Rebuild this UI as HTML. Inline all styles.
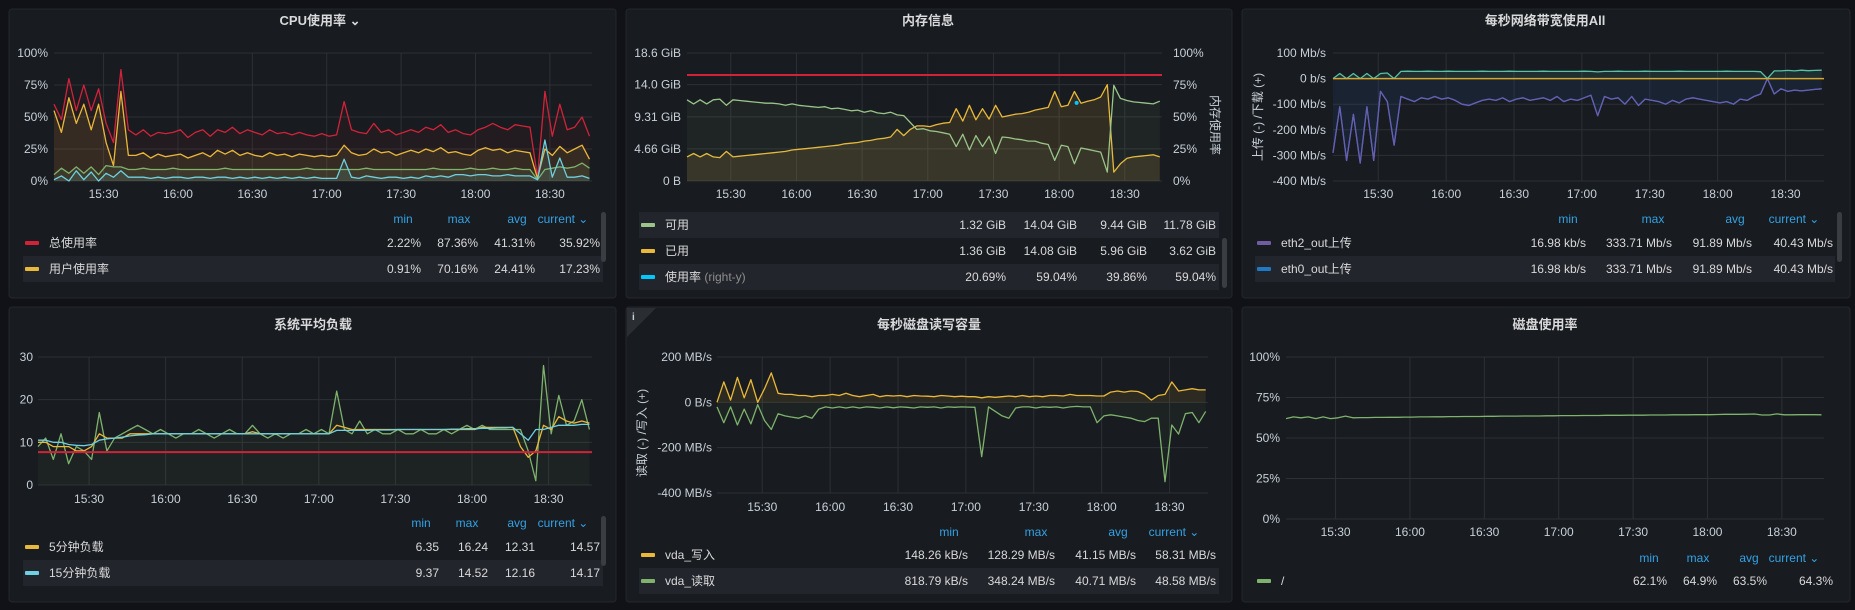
<!DOCTYPE html>
<html><head><meta charset="utf-8">
<style>
html,body{margin:0;padding:0;background:#111217;width:1855px;height:610px;overflow:hidden}
svg{display:block;font-family:"Liberation Sans","Noto Sans CJK SC",sans-serif}
</style></head>
<body>
<svg id="dash" width="1855" height="610" viewBox="0 0 1855 610"></svg>
<script>
// ---- data (one sample every 3 minutes starting 15:10) ----
const xTickLabels = ["15:30","16:00","16:30","17:00","17:30","18:00","18:30"];
const xTickMinutes = [20,50,80,110,140,170,200];

const cpuTotal = [60,48,80,55,75,55,72,45,30,87, 40,36,40,35,38,37,38,40,34,38, 40,35,40,38,42,37,40,38,36,40, 37,38,36,38,36,35,37,35,36,62, 40,38,37,45,38,40,36,38,40,38, 42,40,44,38,40,37,36,40,42,45, 42,40,44,43,42,3,70,35,60,40, 42,50,35];
const cpuUser = [55,38,65,45,60,40,60,30,12,70, 20,20,22,18,21,19,20,21,18,20, 22,19,24,21,24,20,22,20,19,22, 20,21,19,21,20,19,20,19,20,28, 22,20,21,25,22,23,20,22,24,22, 25,23,26,22,23,21,20,24,26,24, 25,22,24,23,22,2,25,20,27,22, 25,28,17];
const cpuSys = [5,10,6,11,6,11,5,12,11,11, 9,9,10,9,9,9,10,9,9,9, 9,9,9,10,9,9,9,9,9,9, 9,9,9,9,10,9,9,9,9,9, 9,9,10,9,9,9,9,9,9,9, 9,10,9,9,9,9,10,9,9,10, 9,9,10,9,9,1,9,10,11,10, 11,14,10];
const cpuIo = [1,4,0,8,1,7,0,6,3,8, 3,3,3,2,3,2,3,3,2,3, 3,2,3,3,2,3,2,3,2,3, 2,3,2,3,2,3,2,2,2,17, 3,2,4,3,2,3,3,2,3,2, 4,3,4,3,5,5,4,5,5,4, 4,5,4,4,4,1,32,3,18,3, 3,4,2];

const memAvail = [11.8,11.2,11.8,11.2,11.8,11.9,11.0,11.8,11.7,11.6, 11.5,11.4,11.3,11.3,11.2,11.0,11.2,11.0,10.9,10.8, 10.7,10.8,10.5,10.6,10.4,10.2,10.3,10.0,10.2,9.9, 9.8,10.0,9.6,9.5,8.5,7.5,7.6,7.3,7.2,7.0, 6.8,5.0,6.8,4.5,6.6,5.0,6.5,4.0,6.4,6.3, 6.1,6.0,5.8,5.8,5.5,5.3,3.0,5.2,5.0,2.5, 4.8,4.6,4.4,4.2,1.3,13.9,12.0,11.7,11.5,11.4, 11.3,11.2,11.6];
const memUsed = [3.5,4.0,3.5,4.0,3.5,3.4,4.3,3.5,3.6,3.7, 3.8,3.9,4.0,4.1,4.2,4.3,4.5,4.6,4.7,4.8, 4.9,5.0,5.1,5.2,5.4,5.5,5.6,5.8,5.9,6.1, 6.2,6.4,7.5,6.6,7.5,8.0,8.0,7.9,8.2,8.4, 8.5,10.5,8.7,11.0,8.9,10.5,9.0,11.0,9.3,9.5, 9.7,9.8,10.0,10.3,10.5,10.7,13.0,10.8,11.0,13.0, 11.3,11.6,11.8,12.2,14.0,1.3,2.5,3.3,3.5,3.6, 3.7,3.8,3.5];
const memThreshold = 15.4;
const memUsagePoint = [[178, 61]]; // [minute, percent]

const netOut = [-290,-110,-320,-140,-330,-110,-320,-50,-90,-260, -70,-80,-90,-75,-80,-70,-80,-75,-85,-100, -105,-95,-85,-80,-85,-75,-90,-80,-75,-85, -80,-75,-85,-70,-90,-80,-85,-75,-65,-145, -70,-80,-75,-100,-70,-105,-80,-85,-90,-100, -85,-95,-80,-75,-80,-85,-90,-95,-90,-100, -80,-85,-70,-60,0,-60,-40,-50,-45,-48, -45,-42,-40];
const netIn = [0,20,0,20,0,20,0,20,22,0, 28,29,28,28,29,28,28,29,28,28, 28,28,29,28,28,28,29,28,28,28, 28,29,28,28,28,28,28,29,28,26, 28,28,29,28,28,28,29,28,28,28, 28,29,28,28,28,28,28,28,29,28, 28,28,28,27,0,30,30,32,30,33, 31,32,33];

const load1 = [9,11,6,12,5,9,8,6,17,8, 11,12,13,14,13,12,13,12,11,12, 12,13,12,11,12,13,12,12,14,12, 11,12,11,12,12,13,12,13,12,22, 13,12,15,12,13,12,12,13,12,12, 13,12,12,13,12,13,14,13,14,13, 13,13,13,13,8,1,28,12,21,14, 15,20,13];
const load5 = [10,10,9,9,9,8,8,9,12,11, 11,11,12,12,12,12,12,12,12,12, 12,12,12,12,12,12,12,12,12.5,12, 12,12,12,12,12,12,12,12,12,14, 13.5,13,13,13,13,13,13,13,13,13, 13,13,13,13,13,13,13,13,13.5,13.5, 13.5,13.5,13.5,9,6.5,8,14,13,16,15, 14.5,15,14.5];
const load15 = [10.5,10.5,10,10,9.5,9.3,9.2,9.5,10.5,10.8, 11,11.2,11.5,11.7,11.8,12,12,12,12,12, 12,12,12,12,12,12,12,12,12,12, 12,12,12,12,12,12,12,12,12,12.8, 12.8,12.8,12.8,12.8,12.9,12.9,12.9,13,13,13, 13,13,13,13,13.1,13.1,13.2,13.2,13.3,13.3, 13.4,13.4,13.5,12,10.5,13,13,13.5,14,14, 14,14.2,14.2];
const loadThreshold = 7.7;

const ioWrite = [0,90,10,110,20,100,0,60,130,40, 35,35,30,30,25,30,30,35,30,40, 30,25,30,35,25,30,28,30,25,30, 28,27,25,30,28,25,27,25,25,20, 25,22,25,28,25,30,25,28,25,30, 30,28,35,30,30,30,28,28,45,50, 45,50,48,35,10,30,35,90,50,55, 60,55,55];
const ioRead = [-20,-90,-20,-100,-30,-95,-10,-80,-120,-50, -60,-65,-70,-60,-70,-30,-20,-25,-20,-25, -20,-25,-20,-22,-25,-20,-24,-20,-22,-25, -20,-22,-20,-25,-20,-22,-20,-21,-22,-240, -20,-40,-60,-70,-25,-20,-20,-25,-20,-22, -20,-25,-20,-18,-20,-20,-90,-60,-55,-60, -65,-70,-80,-85,-70,-70,-350,-100,-140,-50, -45,-90,-40];

const diskUse = [62,63,62.5,63,62,63,62,62.5,63.5,62.5, 62.6,62.6,62.7,62.7,62.8,62.8,62.9,62.9,63,63, 63.1,63.1,63.2,63.2,63.3,63.3,63.3,63.4,63.4,63.5, 63.5,63.5,63.6,63.6,63.6,63.7,63.7,63.8,63.8,63.8, 63.9,63.9,63.9,64,64,64,64.1,64.1,64.1,64.2, 64.2,64.2,64.3,64.3,64.3,64.4,64.4,64.4,64.5,64.6, 64.6,64.6,64.7,64.8,64.2,64.2,64.9,64.3,64.3,64.4, 64.4,64.4,64.3];

// ---- helpers ----
const NS="http://www.w3.org/2000/svg";
const svg=document.getElementById('dash');
const STEP=3, TMAX=217;
function mk(tag,attrs,parent){const e=document.createElementNS(NS,tag);for(const k in attrs)e.setAttribute(k,attrs[k]);(parent||svg).appendChild(e);return e;}
function txt(x,y,s,opts,name){const e=mk('text',Object.assign({x:x,y:y,fill:'#c7d0d9','font-size':12},opts||{}));e.textContent=s;


return e;}
function scales(c){return {x:t=>c.x0+t/TMAX*(c.x1-c.x0), y:v=>c.y1-(v-c.vmin)/(c.vmax-c.vmin)*(c.y1-c.y0)};}

function panel(x,y,w,h,name,title,tcx,tby){
  const r=mk('rect',{x:x,y:y,width:w,height:h,rx:3,fill:'#181b1f',stroke:'#24272c'});
  
  
  const t=txt(tcx,tby,title,{'text-anchor':'middle','font-size':13,'font-weight':'bold',fill:'#d8d9da'},name+'-title');
  
}
function axes(c,name){
  const s=scales(c);
  c.yt.forEach((v,i)=>{const y=s.y(v);
    const g=mk('line',{x1:c.x0,x2:c.x1,y1:y,y2:y,stroke:'#2d3035','stroke-width':1});
    
    
    txt(c.ylx,y+4,c.yl[i],{'text-anchor':'end'},name+'-y-tick');
  });
  xTickMinutes.forEach((m,i)=>{const x=s.x(m);
    const g=mk('line',{x1:x,x2:x,y1:c.y0,y2:c.y1,stroke:'#2d3035','stroke-width':1});
    
    
    txt(x,c.xly,xTickLabels[i],{'text-anchor':'middle'},name+'-x-tick');
  });
}
function series(c,data,color,name,fillOp,fillColor){
  const s=scales(c);
  const pts=data.map((v,i)=>[s.x(i*STEP),s.y(v)]);
  const d=pts.map((p,i)=>(i?'L':'M')+p[0].toFixed(1)+' '+p[1].toFixed(1)).join(' ');
  const base=s.y(Math.max(c.vmin,Math.min(0,c.vmax)));
  if(fillOp){const a=mk('path',{d:d+' L'+pts[pts.length-1][0].toFixed(1)+' '+base+' L'+pts[0][0].toFixed(1)+' '+base+' Z',fill:fillColor||color,'fill-opacity':fillOp,stroke:'none'});
    
    }
  const l=mk('path',{d:d,fill:'none',stroke:color,'stroke-width':1.3,'stroke-linejoin':'round'});
  
  
}
function hline(c,v,color,name,w){const s=scales(c);const y=s.y(v);
  const l=mk('line',{x1:c.x0,x2:c.x1,y1:y,y2:y,stroke:color,'stroke-width':w||2});
  
  }
function header(cols,y,name){const labs=['min','max','avg','current ⌄'];
  cols.forEach((x,i)=>{const t=txt(x,y,labs[i],{'text-anchor':'middle',fill:'#33a2e5'},name+'-header-'+labs[i].split(' ')[0]);
    });}
function row(y,sx,tx,color,label,vals,vx,hl,name,extra){
  if(hl){const b=mk('rect',{x:hl[0],y:y-13,width:hl[1]-hl[0],height:26,fill:'#22252b'});
    
    }
  const sw=mk('rect',{x:sx,y:y-2,width:14,height:4,fill:color,rx:1});
  
  
  const t=txt(tx,y+4,label,{fill:'#d8d9da'},name+'-label');
  
  if(extra){const e=mk('tspan',{fill:'#8e8e8e'},t);e.textContent=extra;}
  vals.forEach((v,i)=>txt(vx[i],y+4,v,{'text-anchor':'end',fill:'#d8d9da'},name+'-value'));
}
function scrollbar(x,y,h,name){const r=mk('rect',{x:x,y:y,width:5,height:h,rx:2.5,fill:'#3a3d42'});
  
  }

// ---- Panel 1: CPU ----
panel(9,9,607,289,'cpu-panel','CPU使用率 ⌄',320,25);
const cCpu={x0:54,x1:592,y0:53,y1:181,vmin:0,vmax:100,yt:[0,25,50,75,100],yl:['0%','25%','50%','75%','100%'],ylx:48,xly:198};
axes(cCpu,'cpu');
series(cCpu,cpuTotal,'#d0233a','cpu-total',0.06);
series(cCpu,cpuUser,'#eab839','cpu-user',0.1);
series(cCpu,cpuSys,'#7eb26d','cpu-system',0.1);
series(cCpu,cpuIo,'#6ed0e0','cpu-iowait',0.1);
header([403,459,517,563],223,'cpu-legend');
row(243,25,49,'#d0233a','总使用率',['2.22%','87.36%','41.31%','35.92%'],[421,478,535,600],null,'cpu-legend-total');
row(269,25,49,'#eab839','用户使用率',['0.91%','70.16%','24.41%','17.23%'],[421,478,535,600],[23,603],'cpu-legend-user');
scrollbar(601,212,50,'cpu-legend-scrollbar');

// ---- Panel 2: Memory ----
panel(626,9,606,289,'memory-panel','内存信息',928,25);
const cMem={x0:687,x1:1162,y0:53,y1:181,vmin:0,vmax:18.6,yt:[0,4.66,9.31,14.0,18.6],yl:['0 B','4.66 GiB','9.31 GiB','14.0 GiB','18.6 GiB'],ylx:681,xly:198};
axes(cMem,'memory');
['0%','25%','50%','75%','100%'].forEach((l,i)=>txt(1173,185-i*32,l,{},'memory-right-y-tick'));
txt(0,0,'内存使用率',{transform:'translate(1211,125) rotate(90)','text-anchor':'middle',fill:'#c7d0d9'},'memory-right-y-title');
hline(cMem,memThreshold,'#d0233a','memory-threshold');
series(cMem,memUsed,'#eab839','memory-used',0.12);
series(cMem,memAvail,'#9ac48a','memory-available',0.06);
memUsagePoint.forEach(p=>{const s=scales(cMem);const c=mk('circle',{cx:s.x(p[0]),cy:181-p[1]/100*128,r:2,fill:'#00c8ff'});
  
  });
const mv=[1006,1077,1147,1216];
row(225,641,665,'#9ac48a','可用',['1.32 GiB','14.04 GiB','9.44 GiB','11.78 GiB'],mv,[639,1219],'memory-legend-available');
row(251,641,665,'#eab839','已用',['1.36 GiB','14.08 GiB','5.96 GiB','3.62 GiB'],mv,null,'memory-legend-used');
row(277,641,665,'#00c8ff','使用率 ',['20.69%','59.04%','39.86%','59.04%'],mv,[639,1219],'memory-legend-usage','(right-y)');
scrollbar(1222,238,50,'memory-legend-scrollbar');

// ---- Panel 3: Network ----
panel(1242,9,608,289,'network-panel','每秒网络带宽使用All',1545,25);
const cNet={x0:1333,x1:1824,y0:53,y1:181,vmin:-400,vmax:100,yt:[-400,-300,-200,-100,0,100],yl:['-400 Mb/s','-300 Mb/s','-200 Mb/s','-100 Mb/s','0 b/s','100 Mb/s'],ylx:1326,xly:198};
axes(cNet,'network');
txt(0,0,'上传 (-) /下载 (+)',{transform:'translate(1262,117) rotate(-90)','text-anchor':'middle'},'network-y-title');
series(cNet,netOut,'#1f78c1','network-eth0-out',0.18,'#1f4a8a');
series(cNet,netOut,'#6a5db0','network-eth2-out',0);
series(cNet,netIn,'#56c2a8','network-in',0.12);
hline(cNet,0,'#d6a72a','network-zero-series',1.5);
header([1568,1653,1735,1794],223,'network-legend');
const nv=[1586,1672,1752,1833];
row(243,1257,1281,'#705da0','eth2_out上传',['16.98 kb/s','333.71 Mb/s','91.89 Mb/s','40.43 Mb/s'],nv,null,'network-legend-eth2');
row(269,1257,1281,'#1f78c1','eth0_out上传',['16.98 kb/s','333.71 Mb/s','91.89 Mb/s','40.43 Mb/s'],nv,[1255,1835],'network-legend-eth0');
scrollbar(1837,212,50,'network-legend-scrollbar');

// ---- Panel 4: Load ----
panel(9,307,607,295,'load-panel','系统平均负载',313,329);
const cLoad={x0:38,x1:592,y0:357,y1:485,vmin:0,vmax:30,yt:[0,10,20,30],yl:['0','10','20','30'],ylx:33,xly:503};
axes(cLoad,'load');
series(cLoad,load1,'#7eb26d','load-1min',0.06);
series(cLoad,load5,'#eab839','load-5min',0);
series(cLoad,load15,'#6ed0e0','load-15min',0);
hline(cLoad,loadThreshold,'#d0233a','load-threshold');
header([421,467,517,563],527,'load-legend');
const lv=[439,488,535,600];
row(547,25,49,'#eab839','5分钟负载',['6.35','16.24','12.31','14.57'],lv,null,'load-legend-5min');
row(573,25,49,'#6ed0e0','15分钟负载',['9.37','14.52','12.16','14.17'],lv,[23,603],'load-legend-15min');
scrollbar(601,516,50,'load-legend-scrollbar');

// ---- Panel 5: Disk IO ----
panel(626,307,606,295,'disk-io-panel','每秒磁盘读写容量',929,329);
const ic=mk('path',{d:'M627 308 L656 308 L627 337 Z',fill:'#2a2d32'});


txt(632,320,'i',{'font-size':10,'font-weight':'bold',fill:'#c7d0d9'},'disk-io-info-icon');
const cIo={x0:717,x1:1208,y0:357,y1:493,vmin:-400,vmax:200,yt:[-400,-200,0,200],yl:['-400 MB/s','-200 MB/s','0 B/s','200 MB/s'],ylx:712,xly:511};
axes(cIo,'disk-io');
txt(0,0,'读取 (-) /写入 (+)',{transform:'translate(646,433) rotate(-90)','text-anchor':'middle'},'disk-io-y-title');
series(cIo,ioWrite,'#eab839','disk-io-write',0.1);
series(cIo,ioRead,'#7eb26d','disk-io-read',0.06);
header([949,1036,1118,1174],536,'disk-io-legend');
const iv=[968,1055,1136,1216];
row(555,641,665,'#eab839','vda_写入',['148.26 kB/s','128.29 MB/s','41.15 MB/s','58.31 MB/s'],iv,null,'disk-io-legend-write');
row(581,641,665,'#7eb26d','vda_读取',['818.79 kB/s','348.24 MB/s','40.71 MB/s','48.58 MB/s'],iv,[639,1219],'disk-io-legend-read');

// ---- Panel 6: Disk usage ----
panel(1242,307,608,295,'disk-usage-panel','磁盘使用率',1545,329);
const cDisk={x0:1286,x1:1824,y0:357,y1:519,vmin:0,vmax:100,yt:[0,25,50,75,100],yl:['0%','25%','50%','75%','100%'],ylx:1280,xly:536};
axes(cDisk,'disk-usage');
series(cDisk,diskUse,'#7eb26d','disk-usage-root',0);
header([1649,1698,1749,1794],562,'disk-usage-legend');
row(581,1257,1281,'#7eb26d','/',['62.1%','64.9%','63.5%','64.3%'],[1667,1717,1767,1833],null,'disk-usage-legend-root');
</script>
</body></html>
